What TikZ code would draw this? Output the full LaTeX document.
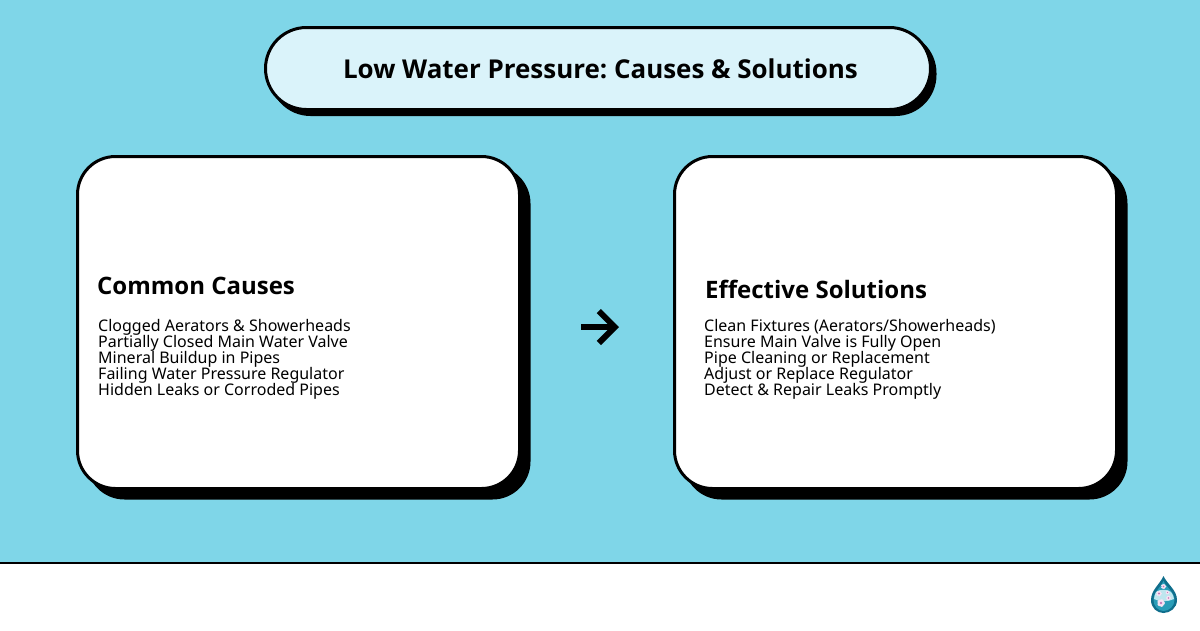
\documentclass[tikz,border=0pt]{standalone}
\usepackage{fontspec}
\setmainfont{Noto Sans}
\newfontfamily\headfont{Open Sans}
\usetikzlibrary{arrows.meta,positioning,calc}
\definecolor{skyback}{HTML}{7FD6E8}
\definecolor{titlefill}{HTML}{DAF3FA}
\definecolor{dropdark}{HTML}{0F6E8C}
\definecolor{dropmid}{HTML}{2A9DB8}
\definecolor{droplight}{HTML}{BFE6EE}
\definecolor{blossom}{HTML}{F7E3F3}
\definecolor{blossomheart}{HTML}{C878B8}

\begin{document}
\begin{tikzpicture}[x=1pt,y=-1pt,
		panel/.style={draw=black,line width=3pt,fill=white,rounded corners=38pt,minimum width=442pt,minimum height=332pt,inner sep=0pt,outer sep=0pt},
		panelshadow/.style={fill=black,rounded corners=38pt,minimum width=444pt,minimum height=334pt,inner sep=0pt,outer sep=0pt},
		titlebox/.style={draw=black,line width=3pt,fill=titlefill,rounded corners=41pt,minimum width=665pt,minimum height=82pt,inner sep=0pt,outer sep=0pt},
		titleshadow/.style={fill=black,rounded corners=41pt,minimum width=667pt,minimum height=84pt,inner sep=0pt,outer sep=0pt},
		heading/.style={anchor=base west,inner sep=0pt,font=\fontsize{24}{28}\headfont\bfseries},
		items/.style={anchor=north west,inner sep=0pt,align=left,font=\fontsize{16}{16}\selectfont},
		flower/.style={fill=blossom,draw=none}]
	\useasboundingbox (0,0) rectangle (1200,630);
	\fill[skyback] (0,0) rectangle (1200,563);
	\fill[white] (0,563) rectangle (1200,630);
	\draw[line width=2pt] (0,562.5) -- (1200,562.5);

	\node[titleshadow] (titleback) at (603,74) {};
	\node[titlebox] (title) at (598,68.5) {\hspace*{5pt}\frenchspacing\fontsize{25.95}{32}\headfont\bfseries Low Water Pressure: Causes \& Solutions};

	\node[panelshadow] (causesback) at (308.5,332.5) {};
	\node[panelshadow] (solutionsback) at (905.5,332.5) {};
	\node[panel] (causes) at (298.5,322.5) {};
	\node[panel] (solutions) at (895.5,322.5) {};

	\node[heading] (causeshead) at (97,294.5) {Common Causes};
	\node[items] (causeslist) at (98,319.5) {Clogged Aerators \& Showerheads\\Partially Closed Main Water Valve\\Mineral Buildup in Pipes\\Failing Water Pressure Regulator\\Hidden Leaks or Corroded Pipes};
	\node[heading] (solutionshead) at (705,298.5) {Effective Solutions};
	\node[items] (solutionslist) at (704,319.5) {Clean Fixtures (Aerators/Showerheads)\\Ensure Main Valve is Fully Open\\Pipe Cleaning or Replacement\\Adjust or Replace Regulator\\Detect \& Repair Leaks Promptly};

	% arrow between the panels
	\coordinate (arrowtail) at (581,327);
	\coordinate (arrowtip) at (619,327);
	\draw[-{Straight Barb[length=16pt,width=32pt,line width=6pt]},line width=6pt] (arrowtail) -- (arrowtip);

	% logo
	\fill[dropdark] (1163.5,576) .. controls (1160,584) and (1151,590) .. (1151,600) .. controls (1151,608) and (1157,613) .. (1163.5,613) .. controls (1170,613) and (1177,608) .. (1177,600) .. controls (1177,590) and (1167,584) .. (1163.5,576) -- cycle;
	\fill[dropmid] (1163.5,581) .. controls (1161,587) and (1153.5,592) .. (1153.5,600) .. controls (1153.5,606) and (1158,611) .. (1163.5,611) .. controls (1169,611) and (1174.5,606) .. (1174.5,600) .. controls (1174.5,592) and (1166,587) .. (1163.5,581) -- cycle;
	\fill[droplight] (1156,592) .. controls (1159,589) and (1168,589) .. (1171,592) .. controls (1173,595) and (1174,597) .. (1174,599) .. controls (1168,602) and (1159,602) .. (1154,599) .. controls (1154,597) and (1155,594) .. (1156,592) -- cycle;
	\foreach \fx/\fy/\fr in {1163.5/586.5/2.4,1159/593.5/2.6,1167.5/592.5/1.8,1168.5/598/2.2,1161/603/3.4}{
		\foreach \a in {0,72,...,288}{
			\fill[flower] (\fx,\fy) ++(\a:0.55*\fr) circle[radius=0.6*\fr];
		}
		\fill[blossomheart] (\fx,\fy) circle[radius=0.4*\fr];
	}
\end{tikzpicture}
\end{document}
